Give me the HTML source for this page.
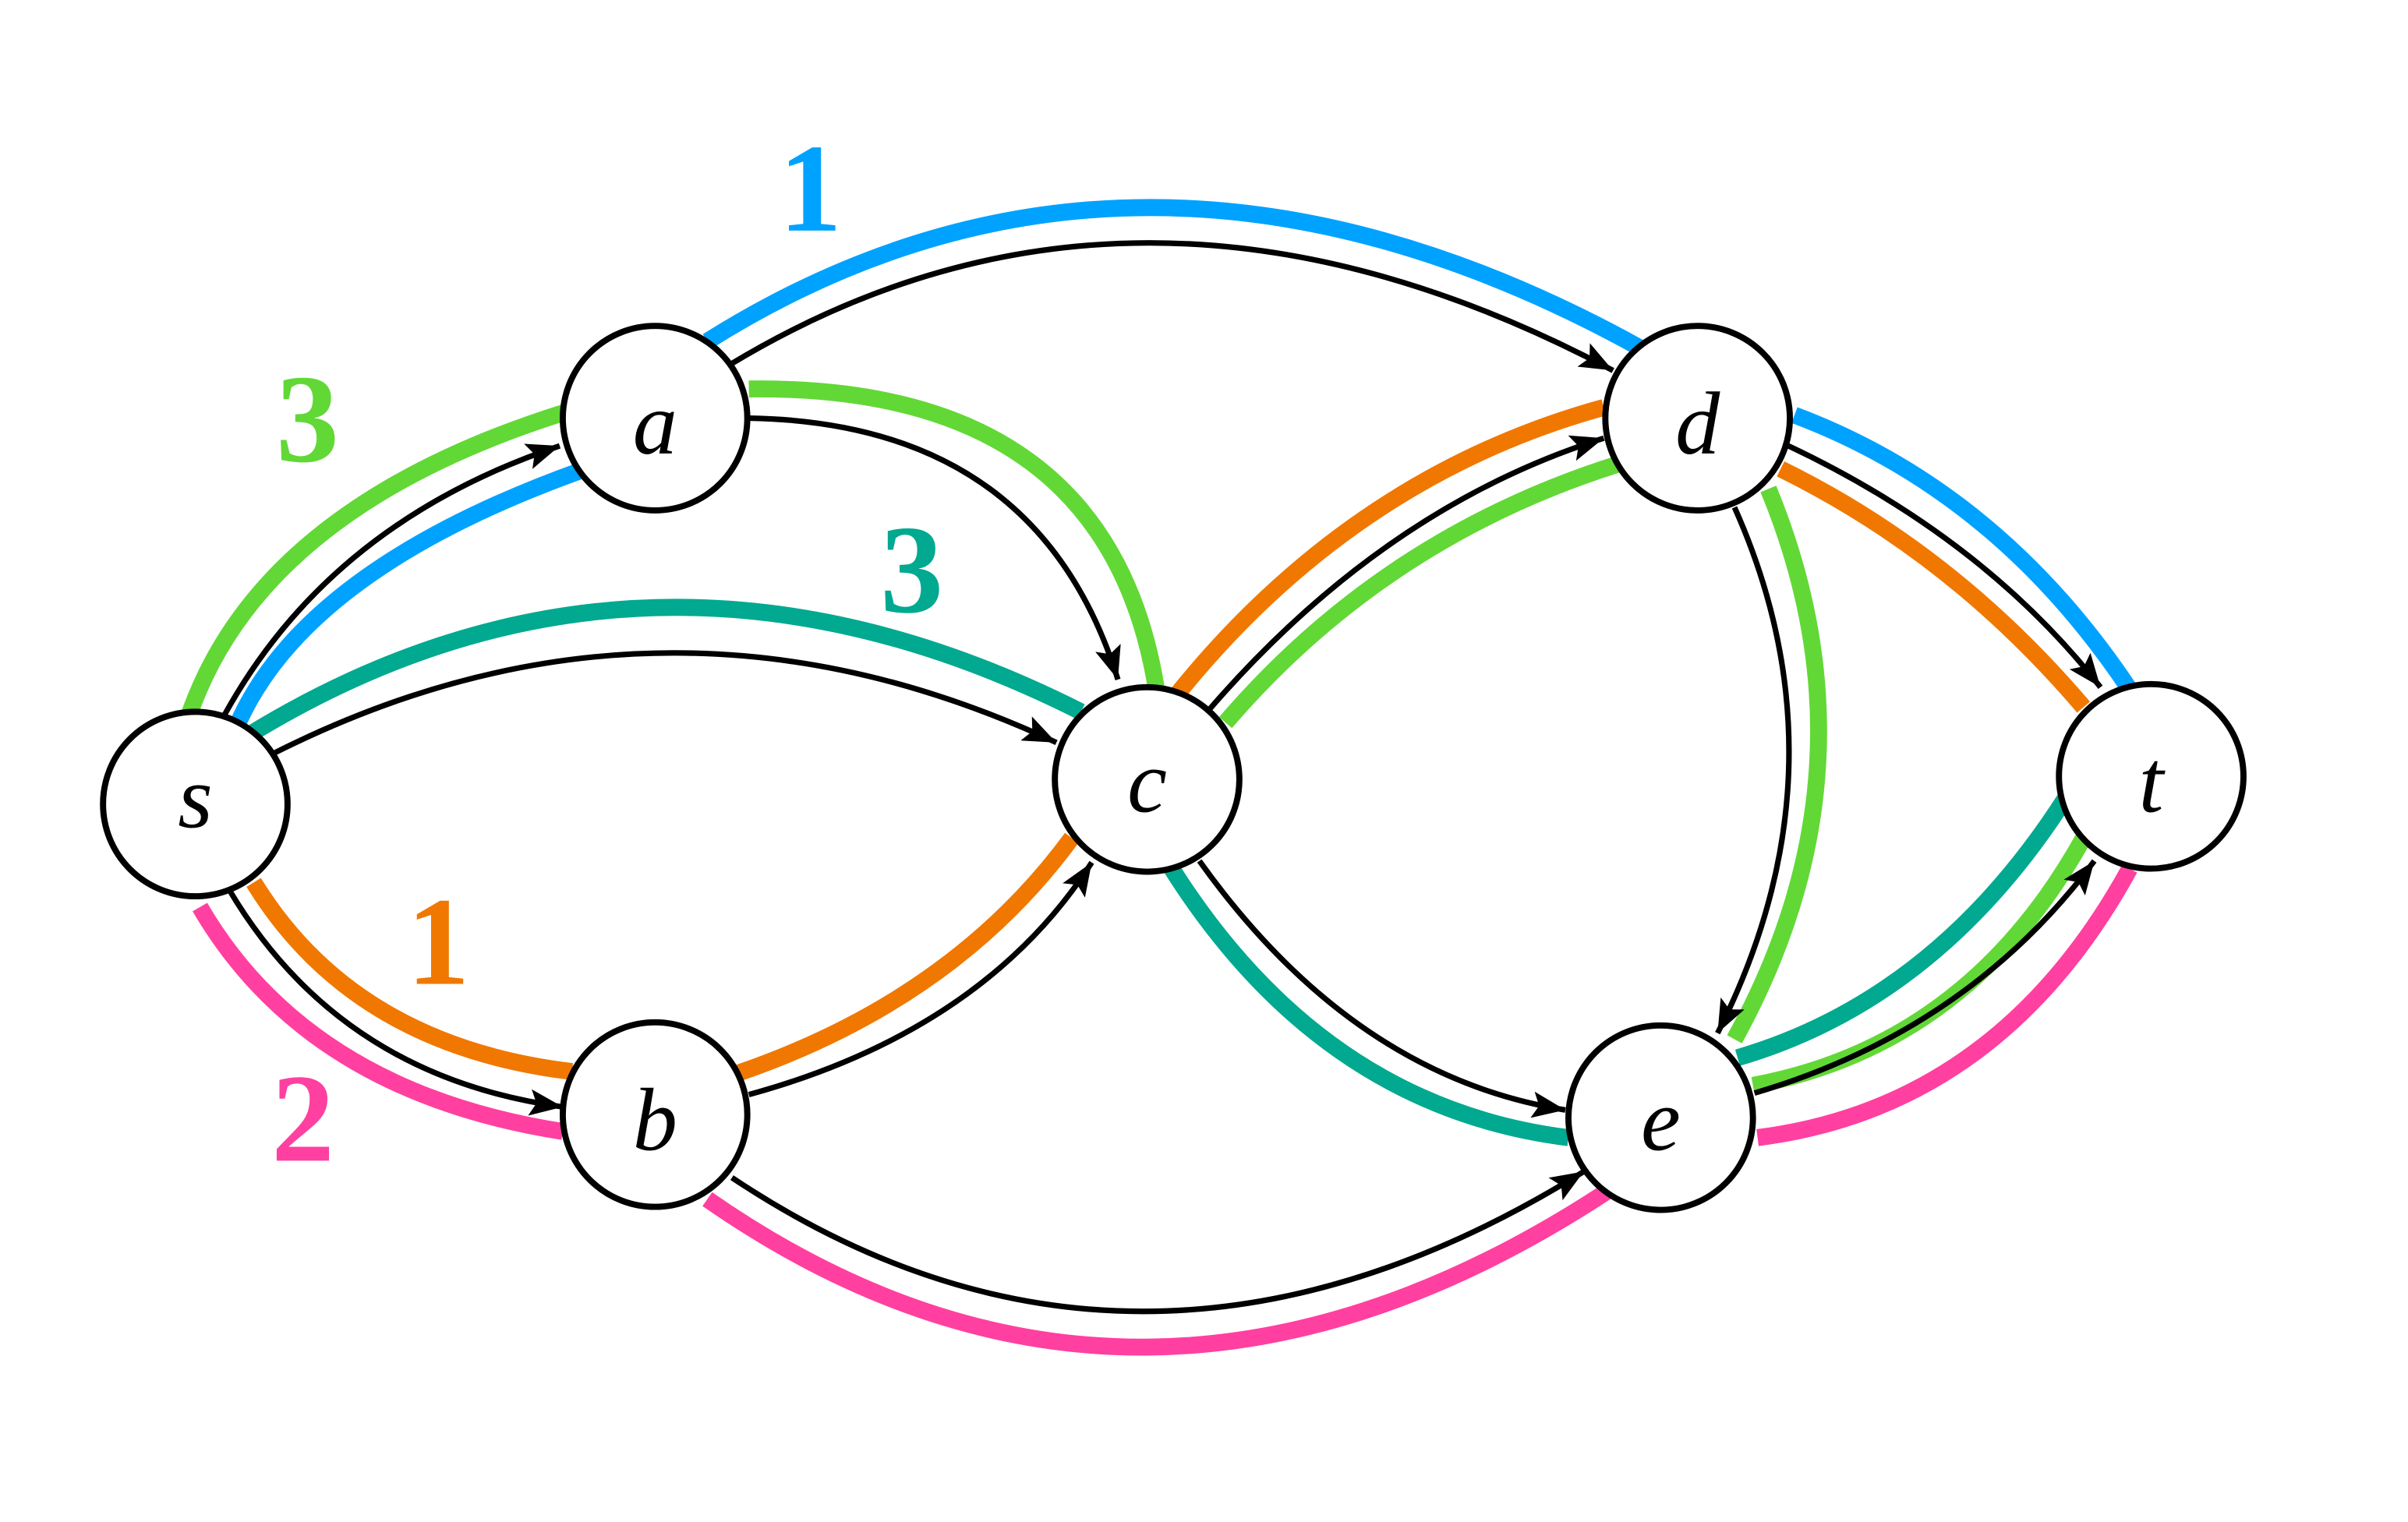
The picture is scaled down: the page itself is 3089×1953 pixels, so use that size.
<!DOCTYPE html>
<html><head><meta charset="utf-8"><style>html,body{margin:0;padding:0;background:#fff}svg{display:block}</style></head>
<body>
<svg width="3089" height="1953" viewBox="0 0 1566 990" preserveAspectRatio="none" xmlns="http://www.w3.org/2000/svg">
<defs>
<marker id="ar" viewBox="0 0 10 8" refX="10" refY="4" markerWidth="6" markerHeight="4.8" markerUnits="strokeWidth" orient="auto">
<path d="M0,0 L10,4 L0,8 L2,4 Z" fill="#000"/>
</marker>
</defs>
<g fill="none" stroke-width="11" stroke-linecap="butt">
<path stroke="#00a2ff" d="M155,470 Q200,370 378,306"/>
<path stroke="#00a2ff" d="M460,222 Q740,46 1066,226"/>
<path stroke="#00a2ff" d="M1167,270 Q1300,320 1386,450"/>
<path stroke="#62d836" d="M123,465 Q170,330 368,268"/>
<path stroke="#62d836" d="M487,253 Q720,250 752,448"/>
<path stroke="#62d836" d="M797,470 Q900,350 1052,302"/>
<path stroke="#62d836" d="M1150,318 Q1225,500 1128,676"/>
<path stroke="#62d836" d="M1140,706 Q1280,680 1355,545"/>
<path stroke="#00a98f" d="M162,478 Q420,320 703,463"/>
<path stroke="#00a98f" d="M762,565 Q860,720 1020,740"/>
<path stroke="#00a98f" d="M1130,688 Q1260,650 1344,518"/>
<path stroke="#f07800" d="M165,574 Q230,680 372,697"/>
<path stroke="#f07800" d="M480,698 Q620,650 697,545"/>
<path stroke="#f07800" d="M766,451 Q880,310 1043,265"/>
<path stroke="#f07800" d="M1158,305 Q1270,360 1355,460"/>
<path stroke="#ff40a0" d="M130,590 Q200,710 366,736"/>
<path stroke="#ff40a0" d="M460,780 Q740,975 1045,775"/>
<path stroke="#ff40a0" d="M1143,740 Q1300,720 1385,565"/>
</g>
<g fill="none" stroke="#000" stroke-width="3.6" marker-end="url(#ar)">
<path d="M146,465 Q215,340 364,290"/>
<path d="M178,490 Q430,363 687,483"/>
<path d="M148,577 Q220,700 366,720"/>
<path d="M475,237 Q740,77 1049,241"/>
<path d="M487,272 Q675,275 727,442"/>
<path d="M487,712 Q640,670 710,561"/>
<path d="M476,766 Q740,942 1030,762"/>
<path d="M786,462 Q900,330 1043,285"/>
<path d="M780,560 Q880,700 1018,722"/>
<path d="M1163,290 Q1290,350 1366,447"/>
<path d="M1128,330 Q1204,500 1117,672"/>
<path d="M1141,711 Q1280,670 1362,560"/>
</g>
<g fill="#fff" stroke="#000" stroke-width="4">
<circle cx="127" cy="523" r="60"/>
<circle cx="426" cy="272" r="60"/>
<circle cx="426" cy="725" r="60"/>
<circle cx="746" cy="507" r="60"/>
<circle cx="1104" cy="272" r="60"/>
<circle cx="1080" cy="727" r="60"/>
<circle cx="1399" cy="505" r="60"/>
</g>
<g font-family="Liberation Serif, serif" font-style="italic" font-size="58" text-anchor="middle" fill="#000">
<text x="127" y="538">s</text>
<text x="426" y="295">a</text>
<text x="426" y="748">b</text>
<text x="746" y="528">c</text>
<text x="1104" y="295">d</text>
<text x="1080" y="748">e</text>
<text x="1399" y="528">t</text>
</g>
<g font-family="Liberation Serif, serif" font-size="82" font-weight="bold" text-anchor="middle">
<text x="527" y="150" fill="#00a2ff">1</text>
<text x="200" y="300" fill="#62d836">3</text>
<text x="593" y="398" fill="#00a98f">3</text>
<text x="285" y="640" fill="#f07800">1</text>
<text x="197" y="755" fill="#ff40a0">2</text>
</g>
</svg>
</body></html>
